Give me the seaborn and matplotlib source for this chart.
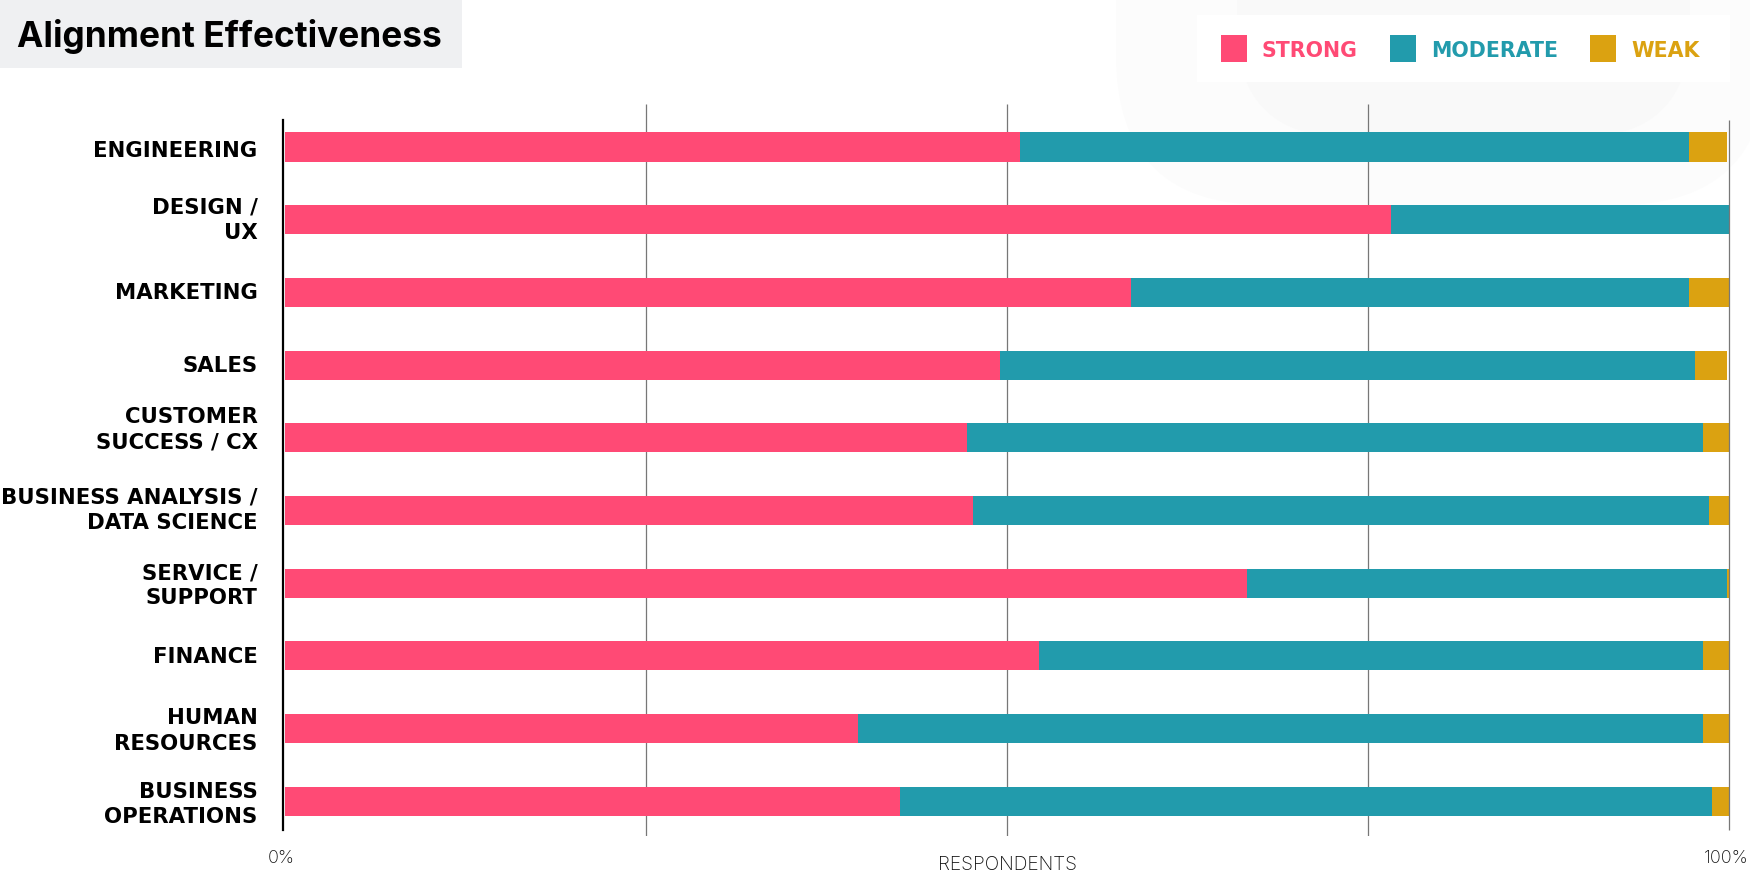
# Alignment effectiveness by department, stacked 100% bars
import pandas as pd
import matplotlib
matplotlib.use('Agg')
import matplotlib.pyplot as plt
from matplotlib.patches import Patch, Rectangle, FancyBboxPatch
from matplotlib.transforms import Affine2D, ScaledTranslation
import seaborn as sns

departments = ['ENGINEERING', 'DESIGN /\nUX', 'MARKETING', 'SALES', 'CUSTOMER\nSUCCESS / CX',
               'BUSINESS ANALYSIS /\nDATA SCIENCE', 'SERVICE /\nSUPPORT', 'FINANCE',
               'HUMAN\nRESOURCES', 'BUSINESS\nOPERATIONS']
strong = [50.9, 76.6, 58.6, 49.5, 47.2, 47.6, 66.6, 52.2, 39.7, 42.6]
moderate = [46.3, 23.4, 38.6, 48.1, 51.0, 51.0, 33.2, 46.0, 58.5, 56.2]
weak = [2.6, 0.0, 2.8, 2.2, 1.8, 1.4, 0.2, 1.8, 1.8, 1.2]

STRONG_C = '#ff4a75'
MODERATE_C = '#229bac'
WEAK_C = '#dba211'
W, H = 1750, 871
# the labels are not quite centred on their bars in the original (pixels, + is down)
label_nudge = [2, -4, -1, -1, -13, -5, -2, -1, -2, -1]

df = pd.DataFrame({'dept': departments, 'strong': strong, 'moderate': moderate, 'weak': weak})
df['to_moderate'] = df['strong'] + df['moderate']
df['to_weak'] = df['to_moderate'] + df['weak']

sns.set_theme(style='white')
plt.rcParams['font.family'] = ['DejaVu Sans']

fig = plt.figure(figsize=(W / 100, H / 100), dpi=100, facecolor='white')

# faint blobs behind the legend, in image pixels from the top left
to_px = Affine2D().scale(1, -1).translate(0, H)
fig.patches.append(FancyBboxPatch((1266, -200), 352, 255, boxstyle='round,pad=150,rounding_size=150',
                                  transform=to_px, fc='#fcfcfc', ec='none', zorder=-3))
fig.patches.append(FancyBboxPatch((1347, -200), 233, 227, boxstyle='round,pad=110,rounding_size=110',
                                  transform=to_px, fc='#f9f9f9', ec='none', zorder=-2))
# title block
fig.patches.append(Rectangle((0, 1 - 68.5 / H), 462 / W, 68.5 / H, transform=fig.transFigure,
                             fc='#eff0f2', ec='none', zorder=-1))
fig.text(17 / W, 1 - 37 / H, 'Alignment Effectiveness', fontsize=25.4, fontweight='bold',
         family='Inter', color='black', va='center', ha='left')
# legend box
fig.patches.append(Rectangle((1197 / W, 1 - 82 / H), 533 / W, 67 / H, transform=fig.transFigure,
                             fc='white', ec='none', zorder=-1))

ax = fig.add_axes([282.5 / W, 1 - 836 / H, 1447 / W, 732 / H])
ax.patch.set_alpha(0)

# stack by overdrawing the running totals, longest first
bar_kws = dict(y='dept', width=0.4, saturation=1, orient='h', linewidth=0, ax=ax)
sns.barplot(data=df, x='to_weak', color=WEAK_C, zorder=2, **bar_kws)
sns.barplot(data=df, x='to_moderate', color=MODERATE_C, zorder=3, **bar_kws)
sns.barplot(data=df, x='strong', color=STRONG_C, zorder=4, **bar_kws)

ax.set_xlim(-2.5 / 14.44, 100)
ax.set_ylim(9.48, -0.592)

ax.vlines([25, 50, 75], 9.48, -0.592, color='#777777', lw=0.9, zorder=1, snap=True)
ax.vlines([100], 9.40, -0.372, color='#777777', lw=0.9, zorder=5, clip_on=False, snap=True)

for s in ['top', 'right', 'bottom']:
    ax.spines[s].set_visible(False)
ax.spines['left'].set_bounds(9.40, -0.372)
ax.spines['left'].set_color('black')
ax.spines['left'].set_linewidth(1.6)

ax.set_ylabel('')
ax.set_xlabel('RESPONDENTS', fontsize=13.8, color='#111111', family='Inter', fontweight='light', va='baseline')
ax.xaxis.set_label_coords((1008 - 282.5) / 1447, -(870 - 836) / 732)
ax.set_xticks([0, 100])
ax.set_xticklabels(['0%', '100%'], fontsize=13, color='#111111', family='Inter', fontweight='light')
ax.tick_params(axis='x', length=0, pad=10)
ax.tick_params(axis='y', length=0, pad=18)
shift = ScaledTranslation(-3.5 / 100, 0, fig.dpi_scale_trans)
for lab in ax.get_xticklabels():
    lab.set_transform(lab.get_transform() + shift)
for lab, dy in zip(ax.get_yticklabels(), label_nudge):
    lab.set_fontsize(15.3)
    lab.set_fontweight('bold')
    lab.set_color('black')
    lab.set_multialignment('right')
    lab.set_linespacing(1.33)
    lab.set_transform(lab.get_transform() + ScaledTranslation(0, -dy / 100, fig.dpi_scale_trans))

handles = [Patch(fc=STRONG_C, lw=0, label='STRONG'), Patch(fc=MODERATE_C, lw=0, label='MODERATE'),
           Patch(fc=WEAK_C, lw=0, label='WEAK')]
leg = fig.legend(handles=handles, ncols=3, loc='center', bbox_to_anchor=(1460 / W, 1 - 48.5 / H),
                 frameon=False, prop={'size': 14.8, 'weight': 'bold'}, handlelength=1.27, handleheight=1.58,
                 handletextpad=0.73, columnspacing=1.56, borderpad=0, borderaxespad=0)
for t, c in zip(leg.get_texts(), [STRONG_C, MODERATE_C, WEAK_C]):
    t.set_color(c)
    t.set_y(-2)

fig.savefig('out.png', dpi=100)
